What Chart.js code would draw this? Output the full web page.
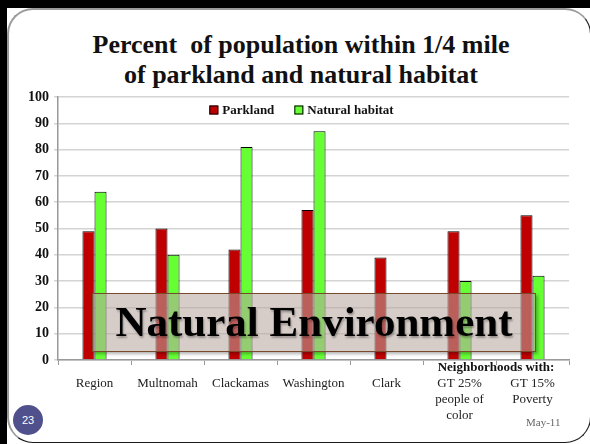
<!DOCTYPE html>
<html>
<head>
<meta charset="utf-8">
<script src="https://cdn.jsdelivr.net/npm/chart.js@4.4.1/dist/chart.umd.min.js"></script>
<style>
  html, body { margin: 0; padding: 0; background: #fff; }
  #stage { position: relative; width: 590px; height: 444px; overflow: hidden; }
  .band { position: absolute; background: #000; }
  #panel {
    position: absolute; left: 7px; top: 8px; width: 584px; height: 435px;
    box-sizing: border-box; border: 1.5px solid #1a1a1a;
    border-top: 2px solid #9a9a9a; border-left: 2px solid #9a9a9a;
    border-radius: 26px; background: #fff;
  }
  #title {
    position: absolute; left: 8px; top: 30px; width: 586px; text-align: center;
    font: bold 26px/30px "Liberation Serif", serif; color: #111;
  }
  #chart { position: absolute; left: 0; top: 0; }
  #banner {
    position: absolute; left: 92px; top: 293px; width: 444px; height: 59px;
    box-sizing: border-box; border: 1.5px solid #7a4a2c;
    background: rgba(183, 167, 160, 0.57);
    box-shadow: 2px 2px 3px rgba(0, 0, 0, 0.3);
    font: bold 43px/56px "Liberation Serif", serif; color: #000;
    text-align: center; text-shadow: 1px 2px 2px rgba(0, 0, 0, 0.3);
  }
  #slideNo {
    position: absolute; left: 13px; top: 405px; width: 30px; height: 30px;
    border-radius: 50%; background: #50508c; color: #fff;
    font: 11px/30px "Liberation Sans", sans-serif; text-align: center;
  }
  #date {
    position: absolute; left: 526px; top: 416px;
    font: 11px "Liberation Serif", serif; color: #666;
  }
</style>
</head>
<body>
<div id="stage">
  <div class="band" style="left:0;top:0;width:590px;height:8px"></div>
  <div class="band" style="left:0;top:0;width:7px;height:444px"></div>
  <div id="panel"></div>
  <div id="title">Percent&nbsp; of population within 1/4 mile<br>of parkland and natural habitat</div>
  <canvas id="chart" width="590" height="444"></canvas>
  <div id="banner">Natural Environment</div>
  <div id="slideNo">23</div>
  <div id="date">May-11</div>
</div>
<script>
  const categories = [
    'Region',
    'Multnomah',
    'Clackamas',
    'Washington',
    'Clark',
    ['GT 25%', 'people of', 'color'],
    ['GT 15%', 'Poverty']
  ];
  const groupLabel = 'Neighborhoods with:';
  const parkland = [49, 50, 42, 57, 39, 49, 55];
  const naturalHabitat = [64, 40, 81, 87, null, 30, 32];
  const yTicks = [0, 10, 20, 30, 40, 50, 60, 70, 80, 90, 100];

  const serif = '"Liberation Serif", serif';

  // shared "Neighborhoods with:" heading over the last two categories
  const groupHeading = {
    id: 'groupHeading',
    afterDraw(chart) {
      const x = chart.scales.x;
      const ctx = chart.ctx;
      const mid = (x.getPixelForValue(5) + x.getPixelForValue(6)) / 2;
      ctx.save();
      ctx.font = 'bold 13px ' + serif;
      ctx.fillStyle = '#111';
      ctx.textAlign = 'center';
      ctx.textBaseline = 'middle';
      ctx.fillText(groupLabel, mid, x.top + 8);
      ctx.restore();
    }
  };

  // horizontal legend sitting inside the top of the plot
  const insideLegend = {
    id: 'insideLegend',
    afterDatasetsDraw(chart) {
      const ctx = chart.ctx;
      const area = chart.chartArea;
      const box = 9, gap = 4, spacing = 20;
      ctx.save();
      ctx.font = 'bold 13px ' + serif;
      const items = chart.data.datasets.map(ds => ({
        ds, w: box + gap + ctx.measureText(ds.label).width
      }));
      const total = items.reduce((s, it) => s + it.w, 0) + spacing * (items.length - 1);
      let x = (area.left + area.right) / 2 - 12 - total / 2;
      const y = area.top + 13;
      ctx.textBaseline = 'middle';
      items.forEach(it => {
        ctx.fillStyle = it.ds.backgroundColor;
        ctx.fillRect(x, y - box / 2, box, box);
        ctx.strokeStyle = '#000';
        ctx.lineWidth = 1;
        ctx.strokeRect(x + 0.5, y - box / 2 + 0.5, box - 1, box - 1);
        ctx.fillStyle = '#111';
        ctx.fillText(it.ds.label, x + box + gap, y + 1);
        x += it.w + spacing;
      });
      ctx.restore();
    }
  };

  new Chart(document.getElementById('chart'), {
    type: 'bar',
    data: {
      labels: categories,
      datasets: [{
        label: 'Parkland',
        data: parkland,
        backgroundColor: '#c00000',
        borderColor: '#000',
        borderWidth: 1
      }, {
        label: 'Natural habitat',
        data: naturalHabitat,
        backgroundColor: '#66ff33',
        borderColor: '#000',
        borderWidth: 1
      }]
    },
    options: {
      responsive: false,
      animation: false,
      categoryPercentage: 0.33,
      barPercentage: 1,
      layout: { padding: { left: 18, right: 21, top: 97, bottom: 4 } },
      scales: {
        x: {
          afterFit(scale) { scale.height = 80; },
          grid: { drawOnChartArea: false, offset: true, tickLength: 5, color: '#999' },
          border: { color: '#999', width: 1.5 },
          ticks: {
            padding: 10,
            color: '#222',
            font: { family: serif, size: 13, lineHeight: 1.25 }
          }
        },
        y: {
          min: 0,
          max: 100,
          afterFit(scale) { scale.width = 40; },
          afterBuildTicks(scale) { scale.ticks = yTicks.map(v => ({ value: v })); },
          grid: { color: '#d4d4d4', lineWidth: 1.5, tickLength: 4 },
          border: { color: '#999', width: 1.5 },
          ticks: {
            padding: 5,
            color: '#111',
            font: { family: serif, size: 14, weight: 'bold' }
          }
        }
      },
      plugins: {
        legend: { display: false },
        tooltip: { enabled: false }
      }
    },
    plugins: [groupHeading, insideLegend]
  });
</script>
</body>
</html>
